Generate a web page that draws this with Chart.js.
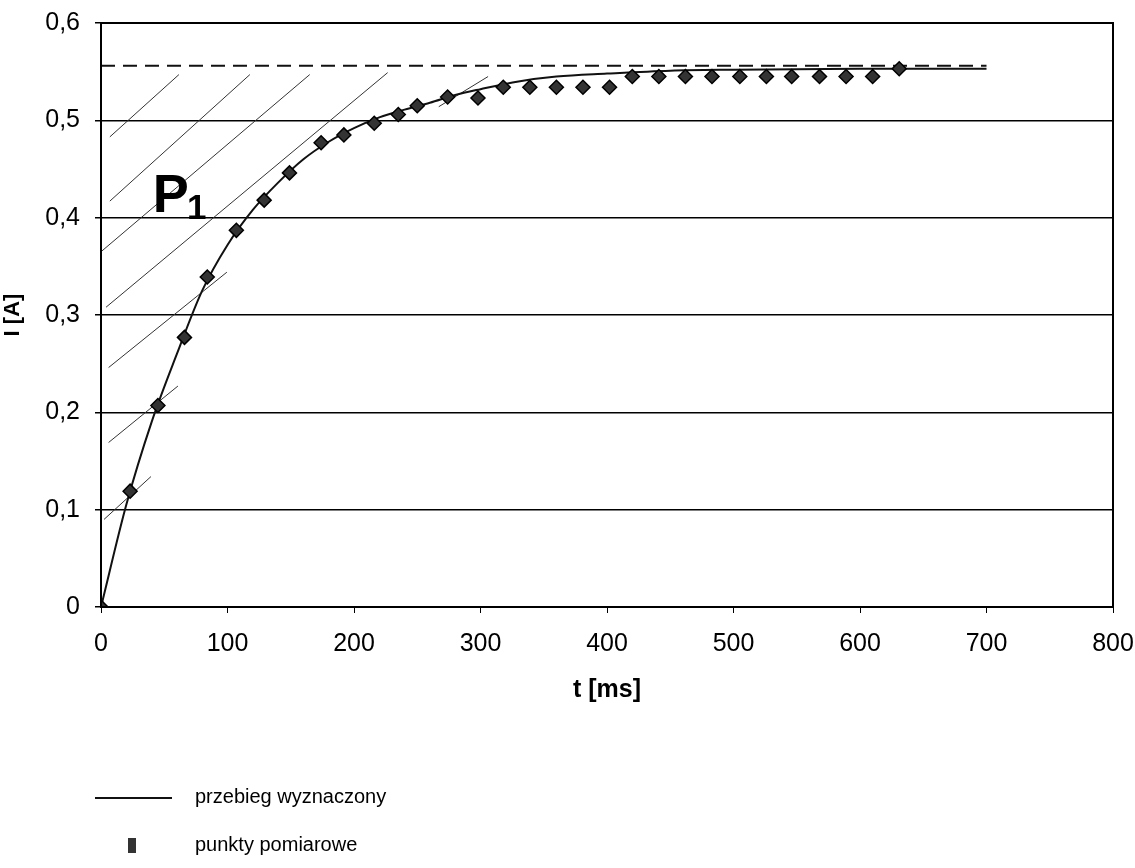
<!DOCTYPE html>
<html>
<head>
<meta charset="utf-8">
<script src="https://cdn.jsdelivr.net/npm/chart.js@4/dist/chart.umd.min.js"></script>
<style>
  body { margin: 0; background: #fff; }
  #wrap { position: relative; width: 1135px; height: 868px; }
  .leg { position: absolute; font: 20px "Liberation Sans", Arial, sans-serif; color: #000; }
  .legLine { position: absolute; left: 95px; top: 797px; width: 77px; height: 2px; background: #111; }
  .legBox { position: absolute; left: 128px; top: 838px; width: 8px; height: 15px; background: #333; }
</style>
</head>
<body>
<div id="wrap">
  <canvas id="chart" width="1135" height="868"></canvas>
  <div class="legLine"></div>
  <div class="leg" style="left:195px; top:785px;">przebieg wyznaczony</div>
  <div class="legBox"></div>
  <div class="leg" style="left:195px; top:833px;">punkty pomiarowe</div>
</div>
<script>
// measured points (t in ms, I in A)
const tMeas = [0, 23, 45, 66, 84, 107, 129, 149, 174, 192, 216, 235, 250, 274, 298,
  318, 339, 360, 381, 402, 420, 441, 462, 483, 505, 526, 546, 568, 589, 610, 631];
const iMeas = [0, 0.119, 0.207, 0.277, 0.339, 0.387, 0.418, 0.446, 0.477, 0.485, 0.497, 0.506, 0.515, 0.524, 0.523,
  0.534, 0.534, 0.534, 0.534, 0.534,
  0.545, 0.545, 0.545, 0.545, 0.545, 0.545, 0.545, 0.545, 0.545, 0.545,
  0.553];

// fitted curve
const tCurve = [0, 20, 40, 60, 80, 100, 120, 140, 160, 180, 200, 220, 240, 260, 280, 300, 330, 360, 400, 450, 500, 600, 700];
const iCurve = [0, 0.105, 0.19, 0.26, 0.325, 0.372, 0.408, 0.436, 0.46, 0.478, 0.492, 0.503, 0.511, 0.518, 0.526,
  0.532, 0.54, 0.545, 0.548, 0.551, 0.552, 0.553, 0.553];

// steady state (dashed)
const tSteady = [0, 700];
const iSteady = [0.556, 0.556];

// hatching of area P1: [t0, I0, t1, I1]
const hatchLines = [
  [7, 0.483, 61.6, 0.547],
  [7, 0.417, 117.7, 0.547],
  [0, 0.365, 165, 0.547],
  [4, 0.308, 226.6, 0.549],
  [6, 0.246, 99.5, 0.344],
  [6, 0.169, 60.8, 0.227],
  [2.4, 0.09, 39.5, 0.134],
  [267, 0.514, 306, 0.545]
];

const xTicks = [0, 100, 200, 300, 400, 500, 600, 700, 800];
const yTicks = [0, 0.1, 0.2, 0.3, 0.4, 0.5, 0.6];

const FONT = "'Liberation Sans', Arial, sans-serif";

function pairs(xs, ys) {
  return xs.map((x, i) => ({ x: x, y: ys[i] }));
}

const datasets = [];
hatchLines.forEach((h) => {
  datasets.push({
    data: [{ x: h[0], y: h[1] }, { x: h[2], y: h[3] }],
    showLine: true, borderColor: "#333", borderWidth: 1, pointRadius: 0, order: 5
  });
});
datasets.push({
  data: pairs(tSteady, iSteady),
  showLine: true, borderColor: "#111", borderWidth: 2, borderDash: [14, 8], pointRadius: 0, order: 4
});
datasets.push({
  label: "przebieg wyznaczony",
  data: pairs(tCurve, iCurve),
  showLine: true, borderColor: "#111", borderWidth: 2, pointRadius: 0,
  cubicInterpolationMode: "monotone", order: 3
});
datasets.push({
  label: "punkty pomiarowe",
  data: pairs(tMeas, iMeas),
  showLine: false, pointStyle: "rectRot", pointRadius: 7,
  backgroundColor: "#333", borderColor: "#000", borderWidth: 1.5, order: 1
});

const frame = {
  id: "frame",
  afterDraw(chart) {
    const { ctx, chartArea: a, scales } = chart;
    ctx.save();
    ctx.strokeStyle = "#000";
    ctx.lineWidth = 2;
    ctx.strokeRect(a.left, a.top, a.right - a.left, a.bottom - a.top);
    // P1 label
    const px = scales.x.getPixelForValue(41);
    const py = scales.y.getPixelForValue(0.406);
    ctx.fillStyle = "#000";
    ctx.textBaseline = "alphabetic";
    ctx.font = "bold 54px " + FONT;
    ctx.fillText("P", px, py);
    const w = ctx.measureText("P").width;
    ctx.font = "bold 35px " + FONT;
    ctx.fillText("1", px + w - 2, py + 7);
    ctx.restore();
  }
};

function noPad(s) {
  s.paddingLeft = 0; s.paddingRight = 0; s.paddingTop = 0; s.paddingBottom = 0;
}

new Chart(document.getElementById("chart"), {
  type: "scatter",
  data: { datasets: datasets },
  plugins: [frame],
  options: {
    responsive: false,
    animation: false,
    layout: { padding: { top: 23, right: 22, bottom: 161, left: 0 } },
    plugins: { legend: { display: false }, tooltip: { enabled: false } },
    scales: {
      x: {
        type: "linear", min: 0, max: 800,
        afterBuildTicks: (s) => { s.ticks = xTicks.map((v) => ({ value: v })); },
        afterFit: (s) => { s.height = 100; noPad(s); },
        grid: { drawOnChartArea: false, color: "#000", tickColor: "#000", tickLength: 6 },
        border: { display: false },
        ticks: { color: "#000", padding: 16, font: { family: FONT, size: 25 } },
        title: { display: true, text: "t [ms]", color: "#000", padding: { top: 0, bottom: 2 },
          font: { family: FONT, size: 25, weight: "bold" } }
      },
      y: {
        type: "linear", min: 0, max: 0.6,
        afterBuildTicks: (s) => { s.ticks = yTicks.map((v) => ({ value: v })); },
        afterFit: (s) => { s.width = 101; noPad(s); },
        grid: { color: "#000", lineWidth: 1.5, tickLength: 6, tickColor: "#000" },
        border: { display: false },
        ticks: {
          color: "#000", padding: 15, font: { family: FONT, size: 25 },
          callback: (v) => (v === 0 ? "0" : v.toFixed(1).replace(".", ","))
        },
        title: { display: true, text: "I [A]", color: "#000", padding: { top: 0, bottom: 0 },
          font: { family: FONT, size: 22, weight: "bold" } }
      }
    }
  }
});
</script>
</body>
</html>
